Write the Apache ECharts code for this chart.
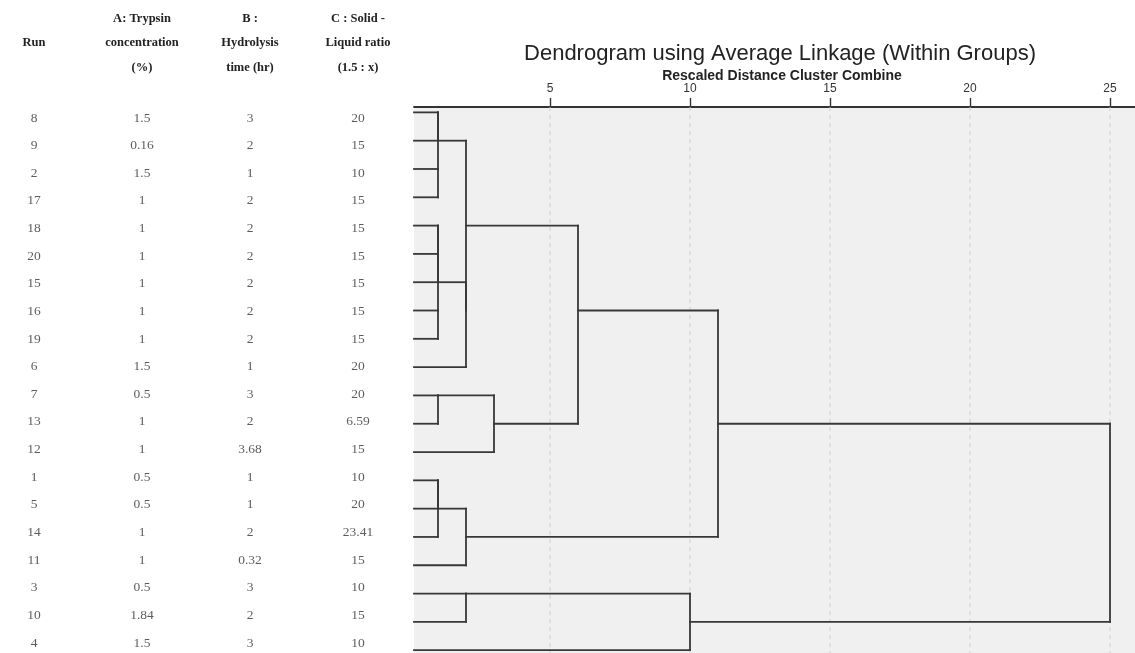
<!DOCTYPE html>
<html>
<head>
<meta charset="utf-8">
<script src="https://cdn.jsdelivr.net/npm/echarts@6/dist/echarts.min.js"></script>
<style>html,body{margin:0;padding:0;background:#fff;}#c{width:1135px;height:653px;}</style>
</head>
<body>
<div id="c"></div>
<script>
// ---- data ----
const headers = ["Run", "A: Trypsin\nconcentration\n(%)", "B :\nHydrolysis\ntime (hr)", "C : Solid -\nLiquid ratio\n(1.5 : x)"];
const runs = [8, 9, 2, 17, 18, 20, 15, 16, 19, 6, 7, 13, 12, 1, 5, 14, 11, 3, 10, 4];
const trypsin = [1.5, 0.16, 1.5, 1, 1, 1, 1, 1, 1, 1.5, 0.5, 1, 1, 0.5, 0.5, 1, 1, 0.5, 1.84, 1.5];
const hydrolysis = [3, 2, 1, 2, 2, 2, 2, 2, 2, 1, 3, 2, 3.68, 1, 1, 2, 0.32, 3, 2, 3];
const ratio = [20, 15, 10, 15, 15, 15, 15, 15, 15, 20, 20, 6.59, 15, 10, 20, 23.41, 15, 10, 15, 10];
// agglomeration steps (clusters named by one member run), rescaled distance
const mergeLeft  = [8, 2, 8, 18, 18, 16, 18, 7, 1, 1, 18, 8, 1, 3, 7, 8, 3, 8, 8];
const mergeRight = [9, 17, 2, 20, 15, 19, 16, 13, 5, 14, 6, 18, 11, 10, 12, 7, 4, 1, 3];
const mergeDist  = [1, 1, 1, 1, 1, 1, 1, 1, 1, 1, 2, 2, 2, 2, 3, 6, 10, 11, 25];
const distTicks = [5, 10, 15, 20, 25];
const chartTitle = "Dendrogram using Average Linkage (Within Groups)";
const axisTitle = "Rescaled Distance Cluster Combine";

// axis extents (leaves start at the left edge of the plot)
const xMin = 0.143, xMax = 26;
const yMin = -0.19, yMax = 19.1;

// ---- table cells ----
const cols = [runs, trypsin, hydrolysis, ratio];
const cells = [];
cols.forEach((arr, c) => arr.forEach((v, r) => cells.push([c, r, String(v)])));

// ---- dendrogram segments ----
const clusterOf = {};
runs.forEach((run, i) => { clusterOf[run] = { x: xMin, y: i, members: [run] }; });
const segs = [];
mergeLeft.forEach((L, k) => {
  const a = clusterOf[L], b = clusterOf[mergeRight[k]], d = mergeDist[k];
  segs.push([a.x, a.y, d, a.y]);
  segs.push([b.x, b.y, d, b.y]);
  segs.push([d, a.y, d, b.y]);
  const nc = { x: d, y: Math.floor((a.y + b.y) / 2), members: a.members.concat(b.members) };
  nc.members.forEach(m => { clusterOf[m] = nc; });
});

const chart = echarts.init(document.getElementById('c'));
const serif = '"Liberation Serif", "DejaVu Serif", serif';
const sans = '"Liberation Sans", Arial, sans-serif';
chart.setOption({
  animation: false,
  backgroundColor: '#ffffff',
  title: [
    { text: chartTitle, left: 775, top: 38, textAlign: 'center',
      textStyle: { fontFamily: sans, fontSize: 22, fontWeight: 'normal', color: '#222' } },
    { text: axisTitle, left: 777, top: 64, textAlign: 'center',
      textStyle: { fontFamily: sans, fontSize: 14, fontWeight: 'bold', color: '#222' } }
  ],
  grid: [
    { left: -20, width: 432, top: 104.2, height: 552.6, show: false, outerBoundsMode: 'none', containLabel: false },
    { left: 414, right: -3, top: 107, bottom: 0, show: true, backgroundColor: '#f0f0f0', borderWidth: 0,
      outerBoundsMode: 'none', containLabel: false }
  ],
  xAxis: [
    { gridIndex: 0, type: 'category', position: 'top', data: headers,
      axisLine: { show: false }, axisTick: { show: false }, splitLine: { show: false },
      axisLabel: { interval: 0, margin: 61, verticalAlign: 'middle', lineHeight: 24.5,
        fontFamily: serif, fontWeight: 'bold', fontSize: 12.5, color: '#222' } },
    { gridIndex: 1, type: 'value', position: 'top', min: xMin, max: xMax,
      axisLine: { show: true, onZero: false, lineStyle: { color: '#333', width: 1.8 } },
      axisTick: { show: true, length: 9, customValues: distTicks, lineStyle: { color: '#333', width: 1.4 } },
      axisLabel: { customValues: distTicks, margin: 12, fontFamily: sans, fontSize: 12, color: '#333' },
      splitLine: { show: false } }
  ],
  yAxis: [
    { gridIndex: 0, type: 'category', inverse: true, data: runs.map(String), show: false },
    { gridIndex: 1, type: 'value', inverse: true, min: yMin, max: yMax, show: false, splitLine: { show: false } }
  ],
  series: [
    { type: 'scatter', xAxisIndex: 0, yAxisIndex: 0, data: cells, symbolSize: 1,
      itemStyle: { color: 'rgba(0,0,0,0)' },
      label: { show: true, position: 'inside', formatter: p => p.value[2],
        fontFamily: serif, fontSize: 13.5, color: '#333' } },
    { type: 'custom', xAxisIndex: 1, yAxisIndex: 1, z: 1, data: distTicks.map(v => [v]), encode: { x: 0 },
      renderItem: (params, api) => {
        const p1 = api.coord([api.value(0), yMin]);
        const p2 = api.coord([api.value(0), yMax]);
        return { type: 'line', shape: { x1: p1[0], y1: p1[1], x2: p2[0], y2: p2[1] },
          style: { stroke: '#cdcdcd', lineWidth: 1, lineDash: [4, 4] } };
      } },
    { type: 'custom', xAxisIndex: 1, yAxisIndex: 1, z: 2, data: segs, encode: { x: [0, 2], y: [1, 3] },
      renderItem: (params, api) => {
        const p1 = api.coord([api.value(0), api.value(1)]);
        const p2 = api.coord([api.value(2), api.value(3)]);
        return { type: 'line', shape: { x1: p1[0], y1: p1[1], x2: p2[0], y2: p2[1] },
          style: { stroke: '#383838', lineWidth: 1.8, lineCap: 'square' } };
      } }
  ]
});
</script>
</body>
</html>
